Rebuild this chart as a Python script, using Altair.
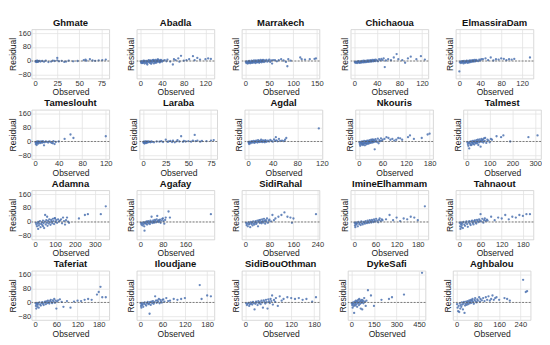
import altair as alt
import pandas as pd

# ---- station names (grid order) ----
stations = ["Ghmate", "Abadla", "Marrakech", "Chichaoua", "ElmassiraDam",
            "Tameslouht", "Laraba", "Agdal", "Nkouris", "Talmest",
            "Adamna", "Agafay", "SidiRahal", "ImineElhammam", "Tahnaout",
            "Taferiat", "Iloudjane", "SidiBouOthman", "DykeSafi", "Aghbalou"]

# ---- x tick labels per station ----
xticks = {
    "Ghmate": [0, 25, 50, 75], "Abadla": [0, 40, 80, 120], "Marrakech": [0, 50, 100, 150],
    "Chichaoua": [0, 40, 80, 120], "ElmassiraDam": [0, 40, 80, 120],
    "Tameslouht": [0, 40, 80, 120], "Laraba": [0, 25, 50, 75], "Agdal": [0, 40, 80, 120],
    "Nkouris": [0, 60, 120, 180], "Talmest": [0, 100, 200, 300],
    "Adamna": [0, 100, 200, 300], "Agafay": [0, 80, 160], "SidiRahal": [0, 80, 160, 240],
    "ImineElhammam": [0, 60, 120, 180], "Tahnaout": [0, 60, 120, 180],
    "Taferiat": [0, 60, 120, 180], "Iloudjane": [0, 60, 120, 180],
    "SidiBouOthman": [0, 60, 120, 180], "DykeSafi": [0, 150, 300, 450], "Aghbalou": [0, 80, 160, 240],
}
ytick_vals = [-80, 0, 80, 160]

# ---- (observed, residual) pairs per station ----
ghmate = [(0.5,-4),(1,-2),(1,1),(1.5,-6),(2,-3),(2,0),(2.5,2),(3,-5),(3,-1),(4,-2),(5,1),(6,-3),(8,0),(10,-4),(12,2),(15,-6),(18,-3),(20,2),(22,0),(25,18),(25,4),(27,-2),(30,1),(33,-5),(35,-3),(38,2),(43,-2),(48,0),(55,5),(57,8),(58,2),(62,10),(65,3),(68,1),(72,4),(76,5),(80,8)]
abadla = [(1,-3),(2,-8),(3,-1),(4,-12),(5,-4),(6,2),(7,-6),(8,-15),(9,-2),(10,-9),(11,1),(12,-5),(13,-20),(14,-3),(15,3),(16,-7),(17,-1),(18,-11),(19,4),(20,-4),(21,0),(22,-8),(23,5),(24,-2),(25,-14),(26,2),(27,-5),(28,6),(29,-1),(30,-9),(31,3),(32,-3),(33,8),(34,0),(35,-6),(36,4),(37,-2),(38,7),(39,1),(40,-4),(2,-12),(5,-10),(8,0),(12,-14),(16,4),(20,-16),(24,6),(28,-10),(32,9),(36,-8),(42,2),(45,5),(48,-2),(50,8),(55,-3),(60,-20),(62,10),(65,5),(70,15),(72,-4),(75,30),(80,2),(85,5),(90,10),(97,28),(100,5),(105,18),(110,8),(120,10),(125,15),(130,12)]
marrakech = [(1,-5),(2,-12),(3,-2),(4,-9),(5,-15),(6,-4),(7,-10),(8,0),(9,-7),(10,-13),(11,-3),(12,-8),(13,2),(14,-11),(15,-5),(16,-1),(17,-9),(18,3),(19,-6),(20,-2),(21,-12),(22,4),(23,-4),(24,-8),(25,1),(26,-6),(27,5),(28,-3),(29,-10),(30,2),(31,-5),(32,6),(33,-1),(34,-7),(35,3),(36,-3),(37,7),(38,0),(39,-6),(40,4),(42,-2),(44,6),(46,-4),(48,2),(50,8),(52,-5),(54,3),(56,-15),(58,5),(62,5),(66,-2),(70,5),(75,10),(80,3),(85,-5),(88,-30),(90,10),(95,2),(115,20),(118,10),(125,8),(135,10),(145,12),(148,15)]
chichaoua = [(1,-6),(2,-10),(3,-3),(4,-8),(5,-12),(6,-4),(7,-9),(8,-1),(9,-7),(10,-11),(11,-2),(12,-6),(13,-9),(14,0),(15,-5),(16,-8),(17,2),(18,-4),(19,-7),(20,1),(21,-3),(22,-6),(23,3),(24,-2),(25,-5),(26,4),(27,-1),(28,-4),(29,5),(30,0),(31,-3),(32,6),(33,1),(34,-2),(35,7),(36,2),(37,-1),(38,8),(40,3),(42,-2),(44,10),(46,4),(48,12),(50,5),(52,15),(54,-35),(56,3),(60,10),(65,5),(70,20),(75,40),(78,10),(85,5),(90,-10),(95,15),(100,25),(110,10),(118,28),(125,8)]
elmassira = [(0,-60),(1,-8),(2,-3),(3,-12),(4,-5),(5,-1),(6,-9),(7,-4),(8,-14),(9,0),(10,-6),(11,-10),(12,-2),(13,-7),(14,2),(15,-4),(16,-11),(17,1),(18,-5),(19,-8),(20,3),(21,-2),(22,-6),(23,4),(24,-1),(25,-4),(26,5),(27,0),(28,-3),(29,6),(30,1),(31,-2),(32,7),(34,2),(36,-1),(38,8),(40,3),(42,10),(45,10),(50,15),(55,5),(60,20),(65,3),(70,10),(75,8),(80,15),(85,12),(90,5),(95,10),(100,8),(105,12),(135,20)]
tameslouht = [(0.5,-5),(1,-15),(1.5,-2),(2,-8),(2.5,-20),(3,-4),(3.5,0),(4,-10),(5,-3),(5.5,-12),(6,1),(7,-6),(8,-2),(9,-9),(10,0),(11,-4),(12,-7),(13,2),(14,-3),(15,-22),(16,-5),(18,0),(20,-2),(22,-6),(24,1),(26,-3),(28,-8),(30,-10),(31,2),(33,-15),(35,-3),(40,0),(50,15),(60,40),(65,20),(120,30)]
laraba = [(0.3,-3),(0.6,-8),(1,-1),(1.3,-5),(1.6,-12),(2,-2),(2.3,-6),(2.6,0),(3,-4),(3.3,-9),(3.6,-1),(4,-3),(4.5,-7),(5,-2),(5.5,1),(6,-4),(7,-1),(8,-5),(9,0),(10,-2),(12,-5),(15,0),(18,-1),(20,2),(22,-3),(25,10),(27,-2),(28,0),(30,3),(32,-3),(33,5),(35,-5),(37,1),(38,8),(40,0),(42,30),(44,-2),(45,3),(47,0),(50,2),(53,-1),(55,5),(57,38),(58,2),(60,5),(63,-1),(65,3),(70,2),(75,5),(78,8)]
agdal = [(0.5,-3),(1,-8),(1.5,-15),(2,-5),(3,-1),(4,-10),(5,-4),(6,2),(7,-6),(8,-2),(9,3),(10,-8),(11,1),(12,-4),(13,5),(14,-1),(15,-6),(16,8),(17,0),(18,-3),(19,4),(20,-2),(21,10),(22,1),(23,-4),(24,6),(25,-1),(26,3),(27,-5),(28,8),(29,2),(30,-2),(32,5),(34,0),(36,9),(38,3),(40,-1),(42,12),(44,4),(45,25),(46,6),(48,1),(50,15),(52,3),(55,5),(58,2),(60,10),(62,20),(115,75)]
nkouris = [(1,-5),(2,-15),(3,-25),(4,-8),(5,-2),(6,-18),(7,-10),(8,0),(9,-12),(10,-20),(11,-4),(12,-14),(13,3),(14,-9),(15,-22),(16,-6),(17,2),(18,-11),(19,-16),(20,-1),(21,5),(22,-7),(23,-13),(24,4),(25,-3),(26,-10),(27,8),(28,-5),(29,1),(30,-8),(31,10),(32,-2),(33,6),(34,-6),(35,12),(36,0),(37,-4),(38,9),(39,3),(40,-45),(41,-1),(42,14),(44,5),(46,-3),(48,16),(50,-10),(52,7),(54,2),(56,18),(58,4),(60,10),(65,15),(70,25),(75,20),(80,10),(85,15),(90,5),(95,10),(100,20),(105,18),(110,10),(125,25),(130,35),(140,15),(160,20),(175,40),(180,45)]
talmest = [(2,-5),(4,-15),(6,-25),(8,-8),(10,-40),(12,-2),(14,-12),(16,-20),(18,0),(20,-20),(22,-6),(24,-10),(26,3),(28,-14),(30,-4),(32,-18),(34,5),(36,-7),(38,-1),(40,-11),(42,7),(44,-3),(46,-9),(48,10),(50,-20),(52,2),(54,-5),(56,12),(58,0),(60,-30),(62,4),(64,15),(66,-2),(68,8),(70,10),(72,-6),(75,18),(78,3),(80,20),(85,-8),(90,10),(95,5),(100,-5),(105,15),(110,10),(130,30),(150,25),(160,35),(190,0),(270,25),(310,35)]
adamna = [(3,-5),(6,-15),(9,-25),(12,-8),(15,0),(18,-20),(21,-10),(24,5),(27,-30),(30,-12),(33,-3),(36,-18),(39,8),(42,-6),(45,-35),(48,2),(50,40),(53,-14),(56,10),(59,-4),(62,-22),(65,6),(68,-9),(71,15),(74,-1),(77,-16),(80,12),(83,3),(86,-7),(89,18),(92,5),(95,-12),(98,22),(100,20),(103,0),(106,10),(110,-5),(115,15),(120,3),(125,8),(130,15),(135,-8),(140,25),(145,5),(150,-15),(155,10),(160,25),(165,2),(170,-5),(220,20),(250,40),(265,45),(330,45),(355,90),(15,-40),(40,-25),(60,30)]
agafay = [(2,-5),(4,-15),(6,-8),(8,-20),(10,-2),(12,-12),(14,-25),(15,-50),(16,-6),(18,-1),(20,-10),(22,3),(24,-15),(26,-4),(28,5),(30,-8),(32,0),(34,-12),(36,7),(38,-3),(40,30),(42,2),(44,-6),(46,9),(48,1),(50,-4),(52,12),(54,4),(56,-2),(58,15),(60,35),(62,6),(64,0),(66,10),(68,3),(70,14),(72,-5),(75,8),(78,18),(80,20),(82,5),(85,-10),(88,12),(90,25),(100,60),(105,25),(250,45)]
sidirahal = [(2,-5),(4,-18),(6,-10),(8,-25),(10,-2),(12,-14),(14,-8),(16,-30),(18,0),(20,-12),(22,-5),(24,-20),(26,3),(28,-9),(30,-15),(32,-2),(34,5),(36,-11),(38,-4),(40,8),(42,-25),(44,2),(46,10),(48,-6),(50,12),(52,0),(54,-8),(56,15),(58,4),(60,-3),(62,18),(64,6),(66,-10),(68,10),(70,2),(72,20),(75,-5),(78,8),(80,14),(85,3),(90,40),(95,10),(100,20),(110,30),(120,40),(130,55),(140,30),(150,25),(155,-5),(160,20),(235,45)]
imine = [(1,-5),(2,-20),(3,-30),(4,-10),(5,-2),(6,-15),(8,-8),(10,-25),(12,0),(14,-12),(16,-5),(18,-18),(20,3),(22,-8),(24,-14),(26,1),(28,-4),(30,-10),(32,5),(34,-2),(36,-7),(38,8),(40,0),(42,-5),(44,10),(46,3),(48,-3),(50,12),(52,5),(54,-1),(56,15),(58,7),(60,2),(62,18),(65,8),(68,-2),(70,12),(72,20),(75,5),(78,15),(80,10),(90,15),(100,40),(110,10),(120,25),(130,5),(140,20),(150,15),(160,30),(170,25),(180,10),(200,90)]
tahnaout = [(1,-5),(2,-25),(3,-40),(4,-12),(5,-2),(6,-30),(7,-18),(8,-8),(10,-35),(12,0),(14,-15),(16,-22),(18,-5),(20,3),(22,-12),(24,-28),(26,-2),(28,5),(30,-10),(32,-18),(34,2),(36,8),(38,-6),(40,-14),(42,4),(44,10),(46,-3),(48,-9),(50,12),(52,5),(54,-1),(56,15),(58,7),(60,45),(62,3),(65,18),(68,-4),(70,10),(72,20),(75,6),(78,14),(80,8),(90,30),(100,10),(110,25),(120,20),(130,40),(140,15),(150,30),(160,25),(170,40),(180,35),(190,45),(200,45)]
taferiat = [(1,-5),(2,-20),(3,-35),(4,-10),(5,-2),(6,-25),(7,-14),(8,-6),(10,-30),(12,0),(14,-12),(16,-18),(18,-4),(20,2),(22,-8),(24,-15),(26,-1),(28,4),(30,-10),(32,6),(34,-3),(36,10),(38,0),(40,-6),(42,8),(44,15),(46,2),(48,-4),(50,12),(52,5),(54,20),(56,-2),(58,10),(60,-35),(62,5),(65,12),(70,18),(75,3),(80,-25),(90,8),(100,-30),(110,5),(120,10),(130,8),(140,15),(150,20),(160,15),(175,45),(180,60),(185,90),(190,30),(200,30)]
iloudjane = [(1,-5),(2,-20),(3,-30),(4,-10),(5,-2),(6,-15),(8,-25),(10,-8),(12,0),(14,-12),(16,-18),(18,-4),(20,3),(22,-10),(24,-6),(25,-65),(26,2),(28,-14),(30,5),(32,-3),(34,8),(36,-8),(38,1),(40,35),(42,10),(44,-2),(46,12),(48,4),(50,20),(52,-5),(54,15),(56,6),(58,-1),(60,15),(62,18),(65,5),(70,25),(75,8),(80,10),(90,20),(100,15),(110,20),(120,25),(160,100),(165,20),(180,40),(190,35)]
sidibou = [(2,-5),(4,-15),(6,-8),(8,-2),(10,-20),(12,-10),(14,0),(16,-6),(18,-12),(20,3),(22,-3),(24,-40),(26,-8),(28,5),(30,-1),(32,-15),(34,8),(36,-4),(38,2),(40,-10),(42,10),(44,0),(46,-30),(48,12),(50,4),(52,-6),(54,15),(56,1),(58,-35),(60,18),(62,6),(64,-3),(66,20),(68,8),(70,40),(72,-12),(75,14),(78,3),(80,25),(85,-20),(90,35),(95,10),(100,20),(110,30),(120,25),(130,20),(140,25),(150,15),(160,20),(175,5),(185,30)]
dykesafi = [(2,-5),(5,-15),(8,-30),(10,-8),(12,0),(15,-20),(18,-60),(20,-10),(22,5),(25,-18),(28,-3),(30,10),(32,-12),(35,2),(38,-25),(40,8),(42,-5),(45,15),(48,-1),(50,-15),(52,20),(55,4),(58,-8),(60,12),(62,-35),(65,6),(68,-2),(70,15),(72,-40),(75,3),(78,10),(80,-5),(85,25),(90,5),(95,-20),(100,10),(110,70),(130,40),(150,-20),(200,15),(250,20),(270,30),(350,45),(470,170)]
aghbalou = [(2,-10),(4,-30),(6,-50),(8,-20),(10,-55),(12,-5),(14,-35),(16,-15),(18,-25),(20,0),(22,-12),(24,-40),(26,-6),(28,3),(30,-60),(32,-18),(34,-8),(36,5),(38,-14),(40,-3),(42,8),(44,-10),(46,2),(48,12),(50,-5),(52,6),(54,15),(56,-2),(58,10),(60,20),(62,4),(65,-8),(68,14),(70,25),(72,6),(75,0),(78,18),(80,10),(85,30),(88,5),(90,20),(95,12),(100,25),(105,8),(110,30),(115,15),(120,35),(125,10),(130,20),(135,40),(140,15),(145,25),(150,30),(160,15),(180,25),(190,20),(200,10),(250,130),(260,60),(265,65)]

series = [ghmate, abadla, marrakech, chichaoua, elmassira,
          tameslouht, laraba, agdal, nkouris, talmest,
          adamna, agafay, sidirahal, imine, tahnaout,
          taferiat, iloudjane, sidibou, dykesafi, aghbalou]

POINT = "#4c72b0"
W, H = 82, 52
YDOM = [-101, 182]


def panel(name, pts, col):
    df = pd.DataFrame(pts, columns=["Observed", "Residual"])
    xmax = max(p[0] for p in pts)
    xmin = min(0, min(p[0] for p in pts))
    pad = 0.05 * (xmax - xmin)
    xs = alt.Scale(domain=[xmin - pad, xmax + pad], nice=False, zero=False)
    ys = alt.Scale(domain=YDOM, nice=False, zero=False)
    yaxis = alt.Axis(values=ytick_vals, title="Residual", labels=(col == 0),
                     labelOverlap=False, tickCount=4)
    yenc = alt.Y("Residual:Q", scale=ys, axis=yaxis)
    dots = alt.Chart(df).mark_circle(size=6, color=POINT, opacity=0.85).encode(
        x=alt.X("Observed:Q", scale=xs,
                axis=alt.Axis(values=xticks[name], title="Observed", labelOverlap=False)),
        y=yenc,
    )
    zero_df = pd.DataFrame({"Residual": [0]})
    zero = alt.Chart(zero_df).mark_rule(color="#555555", strokeDash=[2, 1.5], strokeWidth=0.8).encode(
        y=yenc
    )
    return alt.layer(dots, zero).properties(width=W, height=H, title=name)


rows = []
for r in range(4):
    rows.append(alt.hconcat(*[panel(stations[r * 5 + c], series[r * 5 + c], c) for c in range(5)], spacing=17))

chart = alt.vconcat(*rows, spacing=0).properties(padding=0).configure(
    font="Liberation Sans", background="white"
).configure_view(
    stroke="#cccccc", strokeWidth=0.8
).configure_axis(
    labelFontSize=8, titleFontSize=9, labelColor="#333333", titleColor="#222222",
    titleFontWeight="normal", ticks=False, domain=False, grid=True,
    gridColor="#e2e2e2", gridWidth=0.8, labelPadding=1, titlePadding=1,
    labelFlush=False,
).configure_title(
    fontSize=10, fontWeight="bold", color="#111111", offset=2, anchor="middle"
)

chart.save("out.html", embed_options={"renderer": "svg", "actions": False})
